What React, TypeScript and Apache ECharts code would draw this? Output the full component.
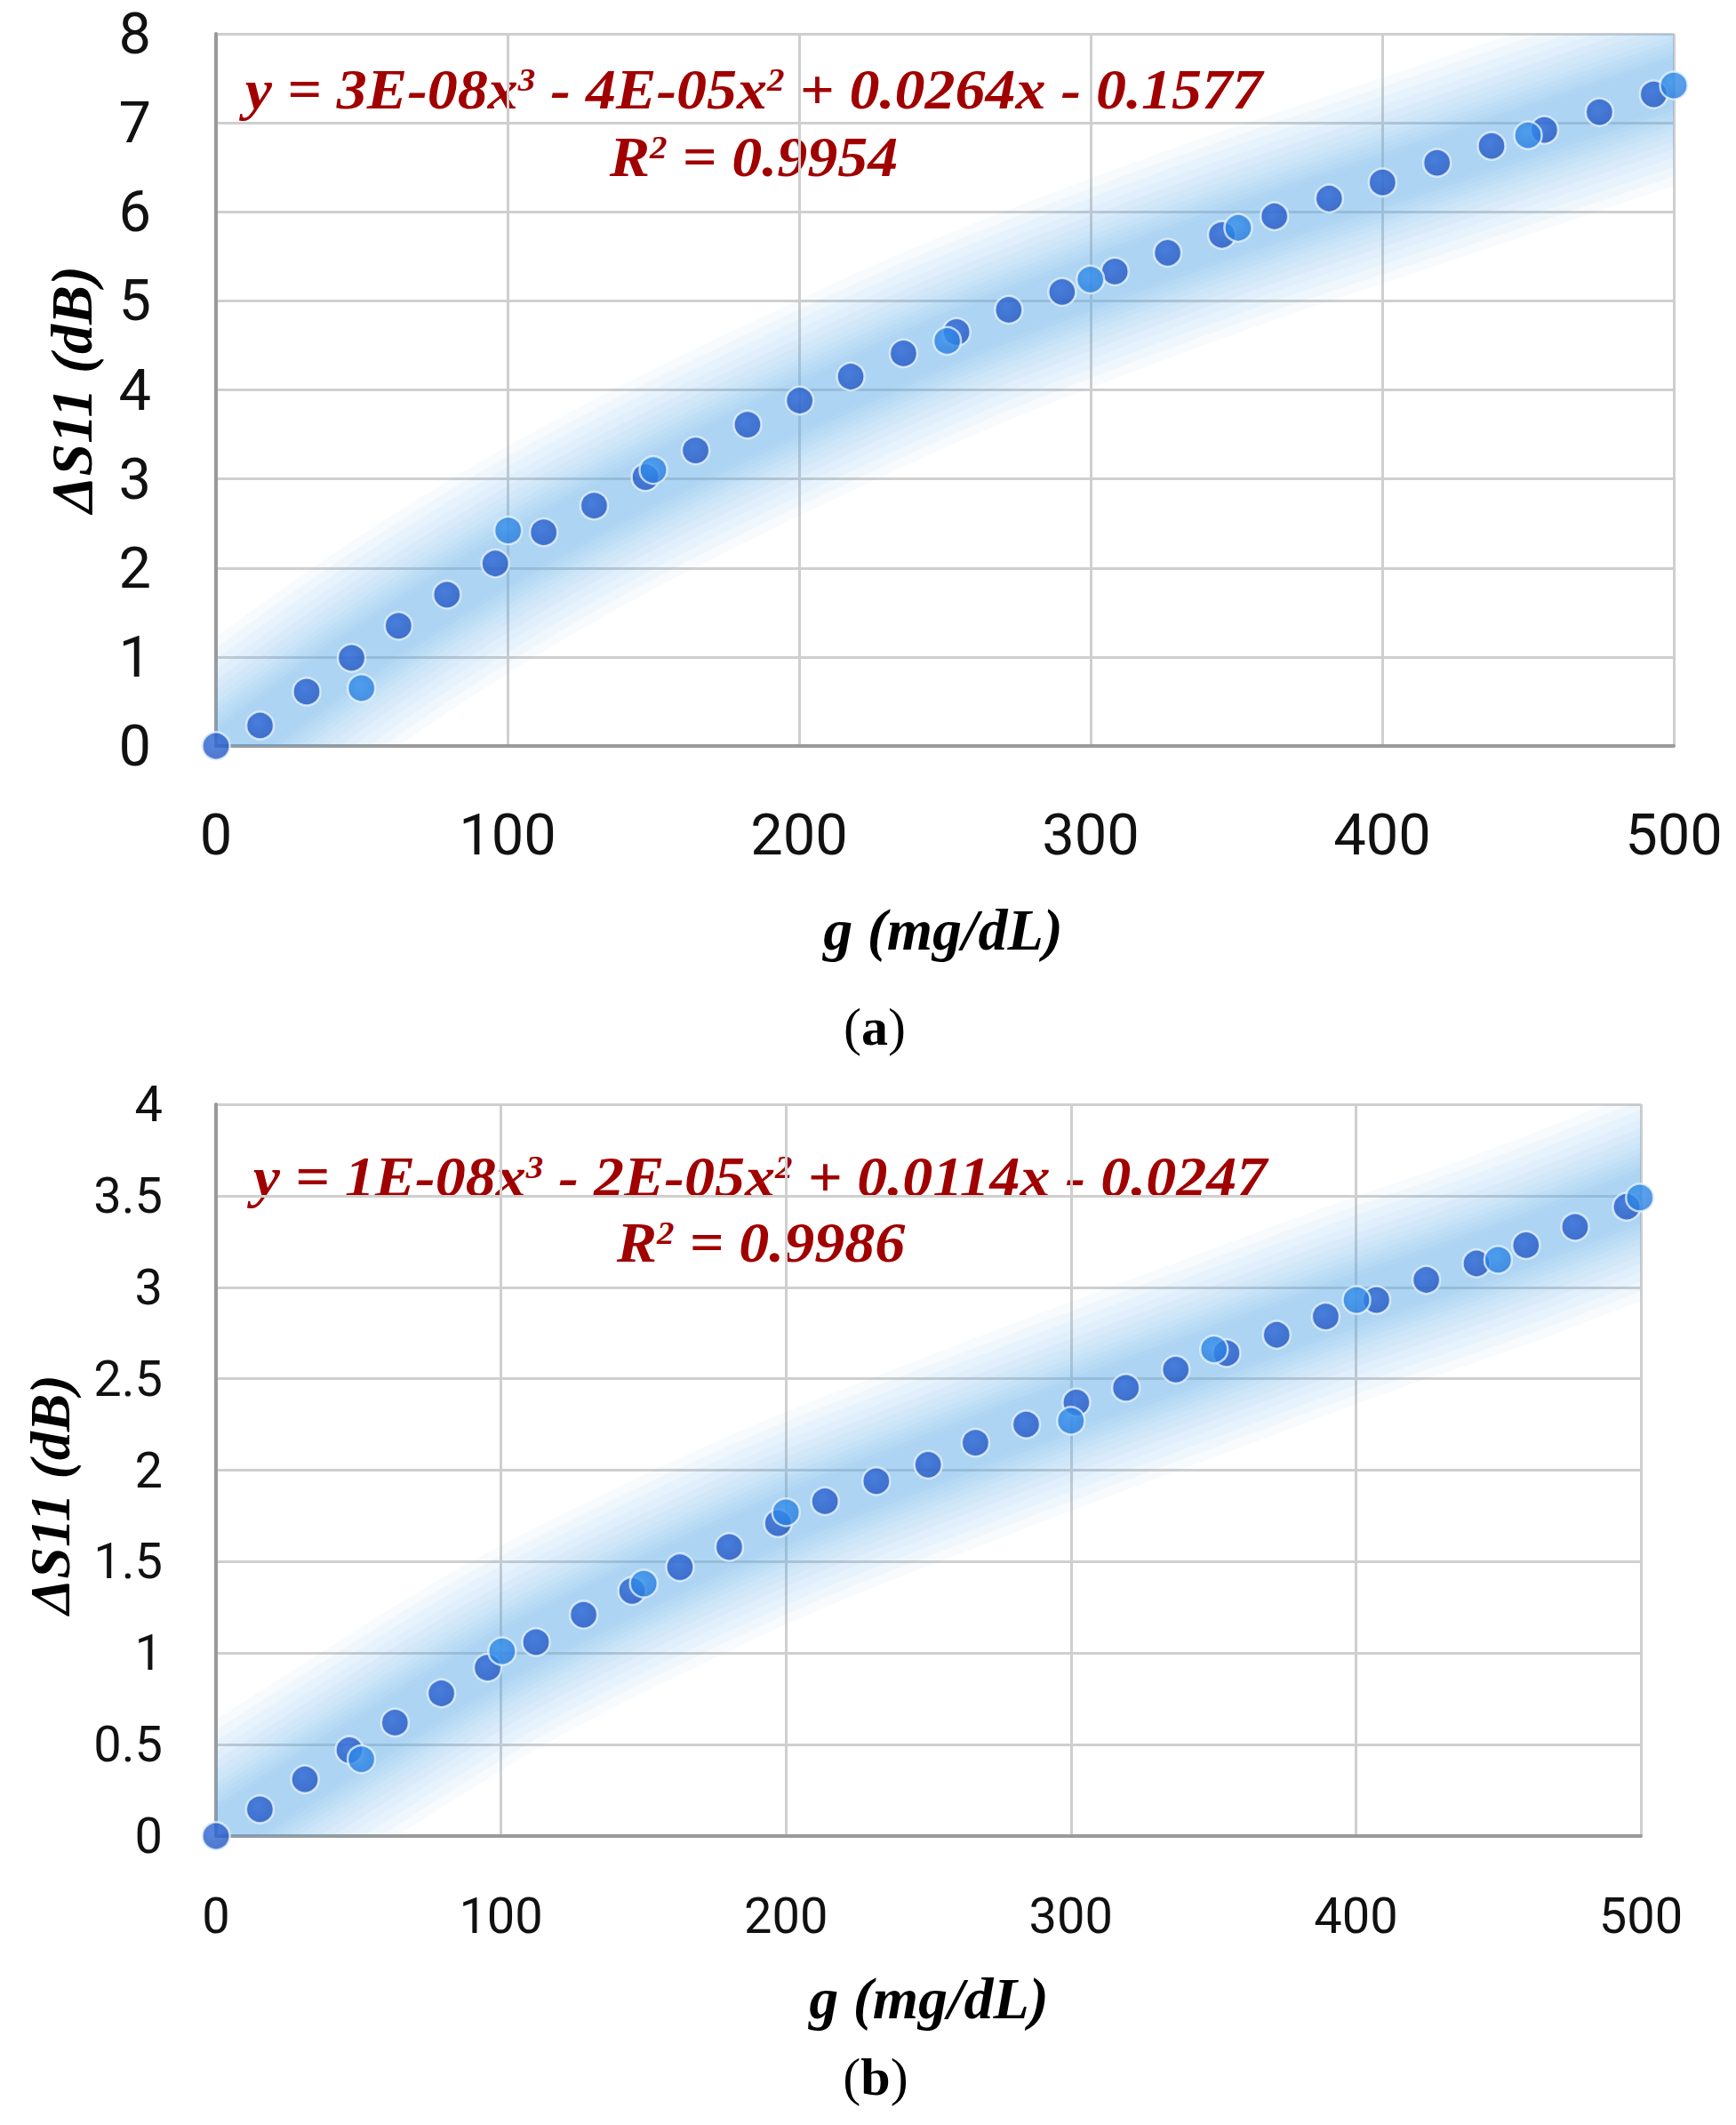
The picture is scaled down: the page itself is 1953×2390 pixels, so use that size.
import React, { useEffect, useRef } from "react";
import * as echarts from "echarts";

// ---------- data ----------
// Panel (a): glucose g (mg/dL) vs ΔS11 (dB)
const aDark: number[][] = [
  [0, 0], [15.1, 0.23], [31.1, 0.61], [46.5, 0.99], [62.6, 1.35], [79.2, 1.70],
  [95.8, 2.05], [112.4, 2.40], [129.7, 2.70], [147.3, 3.02], [164.5, 3.32],
  [182.3, 3.61], [200.2, 3.88], [217.7, 4.15], [235.8, 4.41], [254, 4.65],
  [271.9, 4.90], [290.2, 5.10], [308.3, 5.33], [326.4, 5.54], [345, 5.74],
  [363, 5.95], [381.8, 6.15], [400.1, 6.33], [418.8, 6.55], [437.5, 6.74],
  [455.6, 6.92], [474.5, 7.12], [493.1, 7.32],
];
const aLight: number[][] = [
  [49.9, 0.65], [100.2, 2.42], [150, 3.10], [250.8, 4.55], [299.9, 5.24],
  [350.6, 5.82], [450, 6.86], [500, 7.42],
];
const aTrend: number[][] = [
  [0, -0.15], [50, 1.05], [100, 2.1], [150, 3.0], [200, 3.8], [250, 4.55],
  [300, 5.2], [350, 5.8], [400, 6.35], [450, 6.9], [500, 7.45],
];
const aEquation = "y = 3E-08x{s|3} - 4E-05x{s|2} + 0.0264x - 0.1577";
const aR2 = "R{s|2} = 0.9954";

// Panel (b)
const bDark: number[][] = [
  [0, 0], [15.4, 0.146], [31.2, 0.31], [46.8, 0.47], [62.8, 0.62], [79.1, 0.78],
  [95.3, 0.92], [112.3, 1.06], [129, 1.21], [146, 1.34], [162.8, 1.47],
  [180.1, 1.58], [197.2, 1.71], [213.7, 1.83], [231.7, 1.94], [249.9, 2.03],
  [266.5, 2.15], [284.3, 2.25], [301.9, 2.37], [319.3, 2.45], [336.8, 2.55],
  [354.6, 2.64], [372.2, 2.74], [389.4, 2.84], [407.2, 2.93], [424.7, 3.04],
  [442.3, 3.13], [459.7, 3.23], [476.9, 3.33], [495, 3.44],
];
const bLight: number[][] = [
  [51, 0.42], [100.4, 1.01], [150.1, 1.38], [200, 1.77], [300, 2.27],
  [350.2, 2.66], [400.2, 2.93], [449.9, 3.15], [499.6, 3.49],
];
const bTrend: number[][] = [
  [0, 0.0], [50, 0.5], [100, 0.98], [150, 1.38], [200, 1.74], [250, 2.05],
  [300, 2.35], [350, 2.64], [400, 2.93], [450, 3.2], [500, 3.5],
];
const bEquation = "y = 1E-08x{s|3} - 2E-05x{s|2} + 0.0114x - 0.0247";
const bR2 = "R{s|2} = 0.9986";

const xRange = { min: 0, max: 500, interval: 100 };
const aYRange = { min: 0, max: 8, interval: 1 };
const bYRange = { min: 0, max: 4, interval: 0.5 };
const xTitle = "g (mg/dL)";
const yTitle = "ΔS11 (dB)";

// ---------- styles ----------
const W = 1953;
const H = 2390;
const LABEL_FONT = 'Roboto, "Noto Sans", sans-serif';
const SERIF = '"Liberation Serif", "Times New Roman", serif';
const RED = "#a00000";
const bandWidths = [220, 200, 180, 160, 142, 126, 112, 100, 89, 79, 69, 59, 49];

const darkFill = {
  type: "radial", x: 0.42, y: 0.38, r: 0.72,
  colorStops: [
    { offset: 0, color: "#2f68d6" },
    { offset: 0.75, color: "#2458c4" },
    { offset: 1, color: "#1a44a6" },
  ],
};
const lightFill = {
  type: "radial", x: 0.42, y: 0.38, r: 0.72,
  colorStops: [
    { offset: 0, color: "#3590ec" },
    { offset: 0.75, color: "#2a7ee0" },
    { offset: 1, color: "#1f62c6" },
  ],
};

function xAxisCfg(gridIndex: number, fontSize: number, margin: number) {
  return {
    type: "value", gridIndex, ...xRange,
    axisLine: { show: true, onZero: false, lineStyle: { color: "#9a9a9a", width: 4 } },
    axisTick: { show: false },
    axisLabel: { fontSize, margin, color: "#111", fontFamily: LABEL_FONT },
    splitLine: { show: true, lineStyle: { color: "#cfcfcf", width: 3 } },
  };
}
function yAxisCfg(gridIndex: number, range: any, fontSize: number, margin: number) {
  return {
    type: "value", gridIndex, ...range,
    axisLine: { show: true, onZero: false, lineStyle: { color: "#9a9a9a", width: 4 } },
    axisTick: { show: false },
    axisLabel: { fontSize, margin, color: "#111", fontFamily: LABEL_FONT },
    splitLine: { show: true, lineStyle: { color: "#cfcfcf", width: 3 } },
  };
}

function bandSeries(trend: number[][], idx: number) {
  return {
    type: "custom",
    xAxisIndex: idx, yAxisIndex: idx,
    data: trend,
    clip: true,
    silent: true,
    z: 1,
    renderItem: (params: any, api: any) => {
      if (params.dataIndex !== 0) return null;
      const pts = trend.map((p) => api.coord(p));
      return {
        type: "group",
        children: bandWidths.map((w) => ({
          type: "polyline",
          shape: { points: pts, smooth: 0.35 },
          style: {
            fill: "none",
            stroke: "rgba(95,178,240,0.052)",
            lineWidth: w,
            lineJoin: "round",
            lineCap: "square",
          },
        })),
      };
    },
  };
}

function scatter(data: number[][], idx: number, fill: any, z: number) {
  return {
    type: "scatter", xAxisIndex: idx, yAxisIndex: idx, data,
    symbol: "circle", symbolSize: 31, z,
    itemStyle: { color: fill, borderColor: "rgba(232,246,255,0.95)", borderWidth: 2.5 },
  };
}

function txt(text: string, x: number, y: number, size: number, extra: any = {}) {
  return {
    type: "text", x, y, ...extra,
    style: {
      text, fill: "#000", align: "center", verticalAlign: "middle",
      font: `italic bold ${size}px ${SERIF}`,
    },
  };
}
function eq(text: string, x: number, y: number) {
  return {
    type: "text", x, y, scaleX: 1.08,
    style: {
      text, fill: RED, align: "center", verticalAlign: "middle",
      fontSize: 63, fontFamily: SERIF, fontStyle: "italic", fontWeight: "bold",
      rich: {
        s: {
          fontSize: 36, fontFamily: SERIF, fontStyle: "italic", fontWeight: "bold",
          fill: RED, verticalAlign: "top", padding: [2, 0, 0, 0],
        },
      },
    },
  };
}
function caption(letter: string, x: number, y: number) {
  return {
    type: "text", x, y,
    style: {
      text: `({b|${letter}})`, fill: "#000", align: "center", verticalAlign: "middle",
      font: `60px ${SERIF}`,
      rich: { b: { fontWeight: "bold", fontSize: 60, fontFamily: SERIF, fill: "#000" } },
    },
  };
}

const option: any = {
  animation: false,
  backgroundColor: "#ffffff",
  grid: [
    { left: 243, top: 38, width: 1640, height: 801 },
    { left: 243, top: 1242, width: 1603, height: 823 },
  ],
  xAxis: [xAxisCfg(0, 65, 67), xAxisCfg(1, 56, 62)],
  yAxis: [yAxisCfg(0, aYRange, 65, 73), yAxisCfg(1, bYRange, 56, 60)],
  series: [
    bandSeries(aTrend, 0),
    scatter(aDark, 0, darkFill, 3),
    scatter(aLight, 0, lightFill, 4),
    bandSeries(bTrend, 1),
    scatter(bDark, 1, darkFill, 3),
    scatter(bLight, 1, lightFill, 4),
  ],
  graphic: [
    eq(aEquation, 848, 101),
    eq(aR2, 848, 177),
    eq(bEquation, 855, 1324),
    eq(bR2, 856, 1398),
    txt(xTitle, 1061, 1045, 66),
    txt(yTitle, 80, 438, 66, { rotation: Math.PI / 2 }),
    txt(xTitle, 1045, 2247, 66),
    txt(yTitle, 56, 1681, 64, { rotation: Math.PI / 2 }),
    caption("a", 984, 1155),
    caption("b", 985, 2336),
  ],
};

export default function App() {
  const ref = useRef<HTMLDivElement>(null);
  useEffect(() => {
    document.body.style.margin = "0";
    const chart = echarts.init(ref.current as HTMLDivElement, null, { renderer: "svg" });
    chart.setOption(option);
    return () => chart.dispose();
  }, []);
  return <div ref={ref} style={{ width: W, height: H, background: "#fff" }} />;
}
